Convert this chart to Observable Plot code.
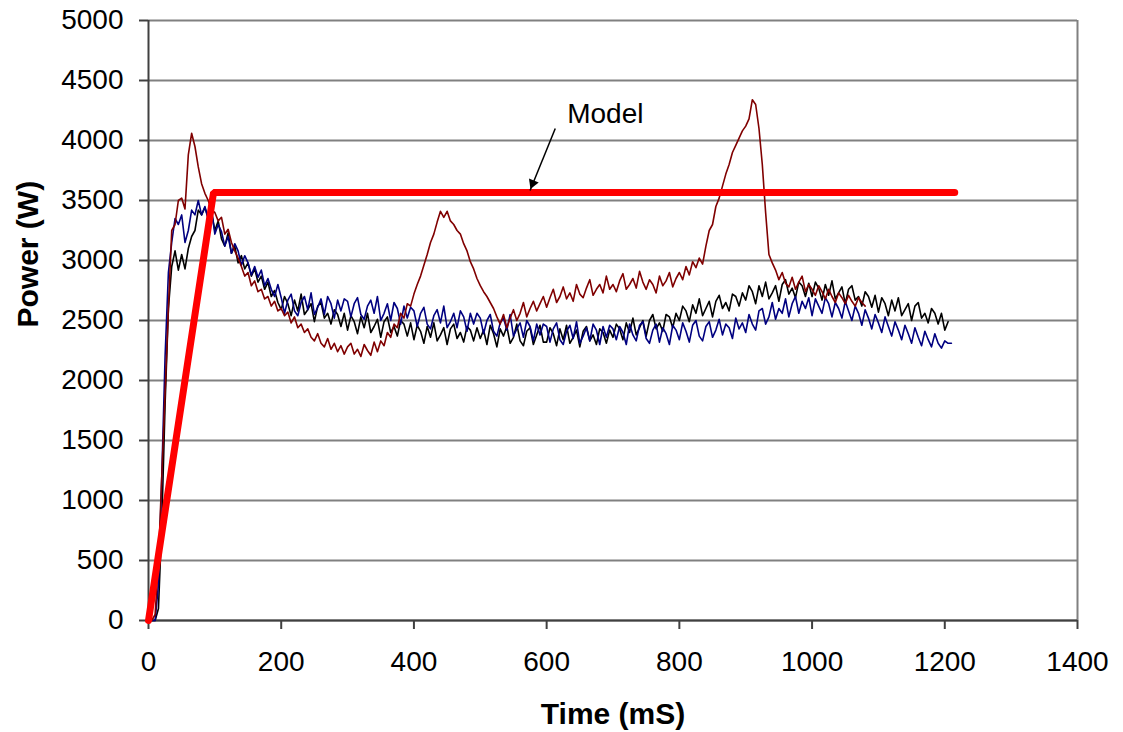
<!DOCTYPE html>
<html><head><meta charset="utf-8">
<script src="https://cdn.jsdelivr.net/npm/d3@7"></script>
<script src="https://cdn.jsdelivr.net/npm/@observablehq/plot@0.6"></script>
<style>body{margin:0;background:#fff} svg{display:block}</style>
</head><body><div id="chart"></div>
<script>
// sampling interval of the measured traces (ms)
const STEP_MS = 5;

// Measured power (W), dark red trace, t = 0..1080 ms
const powerRed = [
0,0,50,500,1200,1900,2600,3250,3300,3500,3520,3430,3880,4060,3950,3780,3640,3560,3500,3420,
3400,3330,3360,3220,3260,3150,3080,3020,2950,2870,2900,2790,2830,2740,2760,2680,2700,2620,2660,2580,
2600,2540,2570,2480,2530,2440,2470,2400,2430,2360,2330,2390,2310,2280,2350,2260,2310,2240,2290,2220,
2280,2310,2220,2260,2200,2300,2250,2210,2320,2240,2330,2290,2400,2360,2470,2440,2560,2520,2640,2620,
2720,2800,2870,2960,3050,3150,3220,3320,3410,3360,3410,3330,3300,3250,3220,3140,3080,2990,2930,2850,
2790,2740,2700,2650,2600,2530,2470,2550,2440,2520,2590,2500,2560,2650,2530,2600,2660,2580,2640,2700,
2610,2690,2760,2650,2700,2780,2680,2730,2660,2800,2720,2690,2770,2840,2710,2760,2800,2730,2870,2760,
2800,2740,2830,2890,2760,2800,2850,2770,2910,2820,2760,2840,2800,2730,2870,2790,2830,2900,2780,2850,
2900,2840,2950,2880,2990,2940,3020,2970,3120,3250,3300,3450,3520,3620,3720,3800,3900,3960,4020,4080,
4120,4180,4340,4300,4100,3800,3400,3050,2980,2920,2840,2900,2810,2780,2860,2760,2820,2870,2740,2800,
2760,2710,2790,2740,2680,2760,2700,2650,2730,2690,2640,2710,2660,2620,2690,2650,2620
];

// Measured power (W), navy trace, t = 0..1210 ms
const powerNavy = [
0,0,0,300,1200,2200,2900,3150,3350,3300,3380,3150,3250,3420,3380,3500,3380,3450,3340,3420,
3220,3300,3240,3120,3200,3060,3140,3080,2960,3040,2980,2880,2950,2860,2920,2790,2850,2760,2700,2800,
2690,2560,2670,2720,2580,2540,2650,2700,2590,2730,2550,2610,2680,2550,2700,2640,2520,2670,2580,2680,
2660,2530,2640,2690,2550,2510,2620,2670,2560,2700,2500,2560,2640,2500,2650,2600,2470,2620,2520,2610,
2580,2450,2560,2610,2470,2430,2540,2590,2480,2620,2440,2490,2560,2440,2580,2530,2410,2560,2470,2560,
2520,2390,2500,2550,2410,2370,2480,2520,2420,2550,2370,2430,2480,2360,2500,2450,2330,2470,2380,2470,
2450,2320,2430,2480,2340,2300,2410,2460,2350,2490,2310,2370,2440,2330,2470,2420,2300,2450,2360,2460,
2430,2340,2450,2400,2300,2470,2380,2330,2460,2490,2350,2310,2420,2470,2320,2440,2390,2300,2460,2420,
2340,2480,2410,2320,2460,2500,2370,2330,2450,2490,2360,2420,2510,2380,2470,2440,2350,2520,2430,2480,
2400,2550,2470,2420,2580,2600,2470,2530,2650,2510,2600,2560,2680,2530,2640,2700,2560,2660,2600,2690,
2540,2680,2620,2560,2690,2640,2530,2650,2600,2520,2660,2580,2500,2620,2560,2460,2590,2520,2430,2550,
2480,2400,2530,2450,2370,2490,2420,2340,2460,2390,2310,2440,2360,2290,2410,2340,2280,2390,2310,2270,
2330,2310,2310
];

// Measured power (W), black trace, t = 0..1205 ms
const powerBlack = [
0,0,0,100,800,1800,2600,2950,3080,2920,3050,2930,3100,3200,3250,3420,3380,3440,3360,3400,
3250,3330,3180,3120,3230,3060,3120,2980,3040,2930,2980,2870,2930,2820,2870,2760,2820,2700,2750,2650,
2590,2700,2640,2540,2670,2580,2720,2550,2590,2640,2490,2620,2650,2520,2560,2470,2590,2550,2450,2560,
2420,2540,2490,2390,2530,2440,2560,2400,2450,2510,2360,2490,2530,2400,2450,2370,2500,2470,2370,2480,
2340,2460,2410,2310,2450,2360,2480,2330,2380,2440,2300,2430,2470,2350,2400,2320,2450,2420,2330,2440,
2350,2420,2300,2460,2390,2280,2430,2370,2450,2310,2360,2470,2330,2290,2410,2440,2300,2380,2460,2320,
2320,2440,2390,2290,2430,2340,2460,2310,2360,2420,2280,2410,2450,2330,2380,2300,2430,2400,2310,2420,
2360,2470,2430,2340,2480,2400,2520,2380,2440,2500,2370,2500,2550,2430,2480,2410,2550,2530,2440,2560,
2500,2620,2580,2490,2630,2560,2680,2540,2600,2660,2530,2660,2710,2600,2650,2580,2720,2700,2620,2730,
2670,2790,2740,2640,2790,2700,2820,2680,2730,2790,2660,2800,2840,2720,2770,2690,2820,2790,2700,2810,
2700,2820,2770,2670,2800,2710,2830,2680,2730,2780,2640,2760,2790,2670,2700,2620,2740,2700,2610,2710,
2570,2690,2640,2540,2670,2580,2690,2540,2590,2640,2500,2620,2650,2520,2560,2480,2600,2560,2470,2560,
2420,2490
];

// Model (ramp then constant)
const modelTime = [0, 98, 1215];
const modelPower = [0, 3567, 3567];

// Axis ticks
const xTicks = [0, 200, 400, 600, 800, 1000, 1200, 1400];
const yTicks = [0, 500, 1000, 1500, 2000, 2500, 3000, 3500, 4000, 4500, 5000];

// Annotation: label + arrow (time ms, power W)
const modelLabel = ["Model"];
const modelLabelPos = [631, 4217];
const arrowTail = [613, 4100];
const arrowTip = [575, 3583];
const arrowHeadCenter = [579, 3643];

const toRows = (arr) => arr.map((p, i) => ({t: i * STEP_MS, p}));
const modelRows = modelTime.map((t, i) => ({t, p: modelPower[i]}));

const chart = Plot.plot({
  width: 1123,
  height: 732,
  marginLeft: 148,
  marginRight: 46,
  marginTop: 20,
  marginBottom: 112,
  style: {fontFamily: "'Liberation Sans', Arial, sans-serif", fontSize: "28px", color: "#000", background: "#fff"},
  x: {domain: [0, 1400]},
  y: {domain: [0, 5000]},
  marks: [
    Plot.gridY(yTicks, {stroke: "#808080", strokeOpacity: 1, strokeWidth: 2}),
    Plot.ruleX([1400], {stroke: "#808080", strokeWidth: 2}),
    Plot.axisY(yTicks, {tickSize: 9, tickPadding: 16, fontSize: 28, label: null, stroke: "#404040", strokeWidth: 2, fill: "#000", tickFormat: d => String(d)}),
    Plot.axisX(xTicks, {tickSize: 9, tickPadding: 22, fontSize: 28, label: null, stroke: "#404040", strokeWidth: 2, fill: "#000", tickFormat: d => String(d)}),
    Plot.ruleX([0], {stroke: "#404040", strokeWidth: 2}),
    Plot.ruleY([0], {stroke: "#404040", strokeWidth: 2}),
    Plot.line(toRows(powerBlack), {x: "t", y: "p", stroke: "#000000", strokeWidth: 1.6}),
    Plot.line(toRows(powerNavy), {x: "t", y: "p", stroke: "#000080", strokeWidth: 1.6}),
    Plot.line(toRows(powerRed), {x: "t", y: "p", stroke: "#800000", strokeWidth: 1.6}),
    Plot.line(modelRows, {x: "t", y: "p", stroke: "#ff0000", strokeWidth: 7, strokeLinejoin: "miter"}),
    Plot.link([0], {x1: () => arrowTail[0], y1: () => arrowTail[1], x2: () => arrowTip[0], y2: () => arrowTip[1], stroke: "#000", strokeWidth: 1.5}),
    Plot.dot([0], {x: () => arrowHeadCenter[0], y: () => arrowHeadCenter[1], symbol: "triangle2", r: 5, fill: "#000", stroke: "none", rotate: 202}),
    Plot.text(modelLabel, {x: () => modelLabelPos[0], y: () => modelLabelPos[1], text: d => d, textAnchor: "start", fontSize: 28, fill: "#000"}),
    Plot.text(["Time (mS)"], {frameAnchor: "bottom", dy: 103, text: d => d, fontSize: 30, fontWeight: "bold", fill: "#000"}),
    Plot.text(["Power (W)"], {frameAnchor: "left", dx: -120, dy: 7, rotate: -90, text: d => d, fontSize: 30, fontWeight: "bold", fill: "#000"})
  ]
});
document.getElementById("chart").appendChild(chart);
</script>
</body></html>
